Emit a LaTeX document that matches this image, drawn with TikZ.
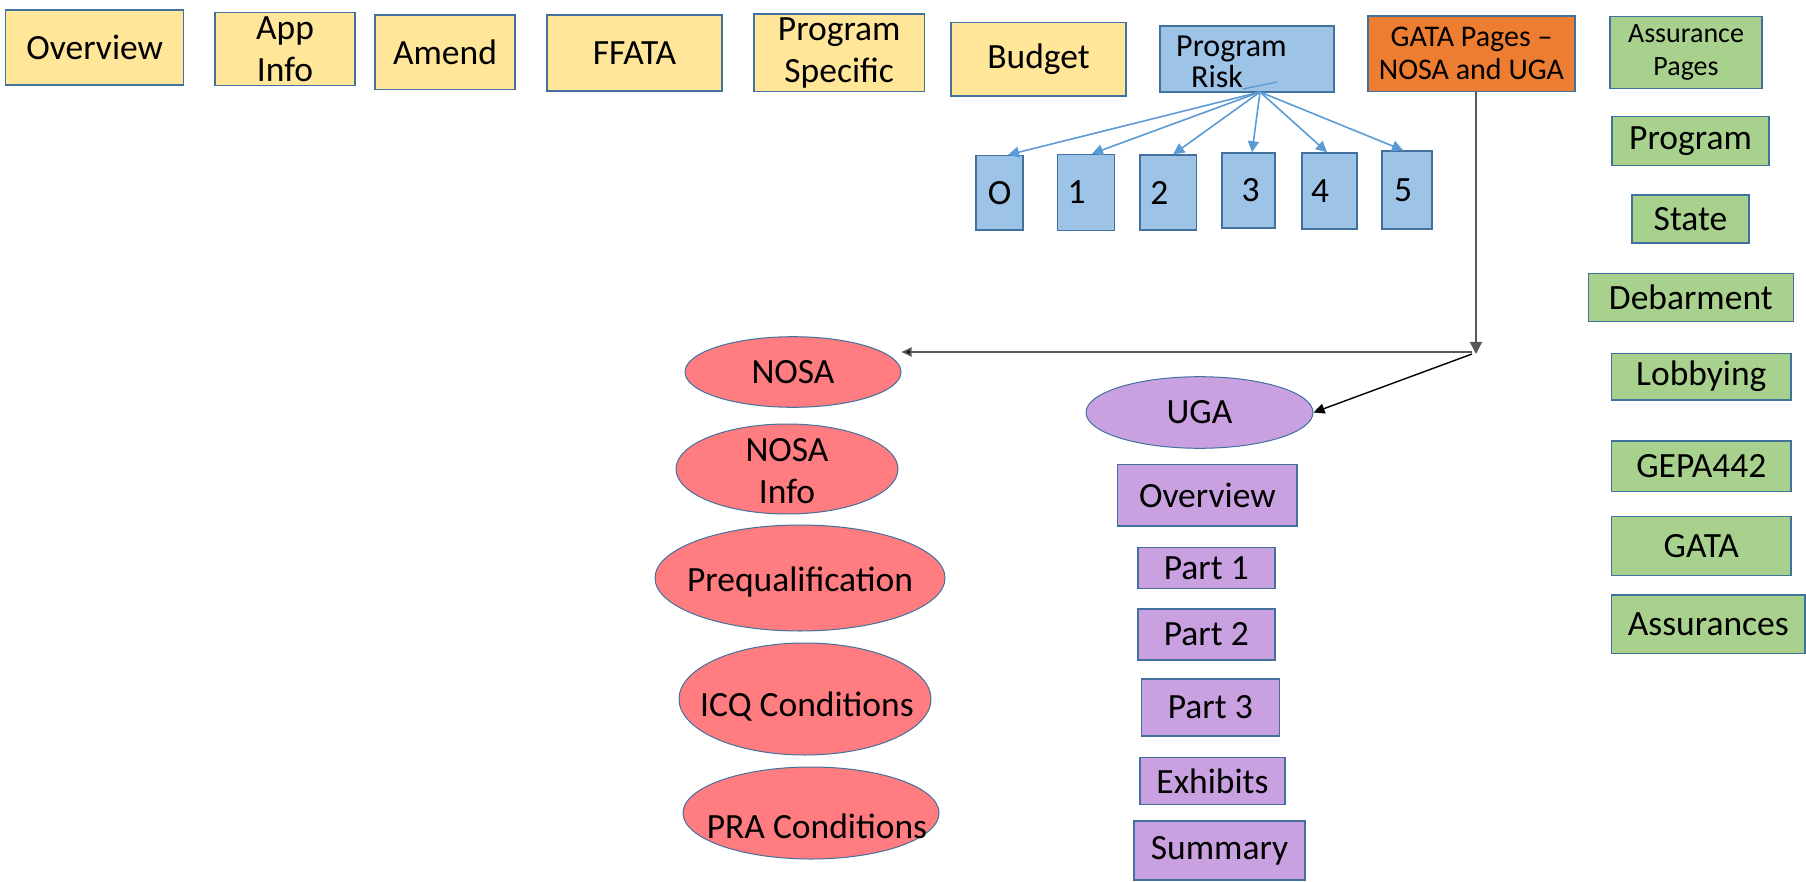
\documentclass[tikz,border=0pt]{standalone}
\usepackage{fontspec}
\setmainfont{Carlito}
\usetikzlibrary{shapes.geometric,arrows.meta}
\definecolor{bord}{HTML}{41719C}
\definecolor{yel}{HTML}{FFE699}
\definecolor{blu}{HTML}{9DC3E6}
\definecolor{org}{HTML}{ED7D31}
\definecolor{grn}{HTML}{A9D18E}
\definecolor{rd}{HTML}{FF7C80}
\definecolor{pur}{HTML}{C9A0E0}
\definecolor{arrblue}{HTML}{5B9BD5}
\newcommand\fbig{\fontsize{35.5}{42}\selectfont}
\newcommand\fmid{\fontsize{32}{38}\selectfont}
\newcommand\fsml{\fontsize{28}{33}\selectfont}
\newcommand\fgat{\fontsize{30}{33}\selectfont}
\begin{document}
\begin{tikzpicture}[x=1pt,y=-1pt,
  sz/.style 2 args={minimum width=#1pt, minimum height=#2pt},
  base/.style={draw=bord, line width=1.5pt, inner sep=0pt, font=\fbig, align=center, text=black},
  ybox/.style={base, fill=yel},
  bbox/.style={base, fill=blu},
  nbox/.style={bbox},
  obox/.style={base, fill=org, font=\fgat},
  gbox/.style={base, fill=grn},
  pbox/.style={base, fill=pur},
  ell/.style={ellipse, draw=bord, line width=1pt, inner sep=0pt},
  rell/.style={ell, fill=rd},
  pell/.style={ell, fill=pur},
  lbl/.style={font=\fbig, align=center, text=black, inner sep=0pt},
  barrow/.style={draw=arrblue, line width=1.6pt, -{Triangle[length=11pt,width=11pt]}},
  karrow/.style={draw=black, line width=1.4pt, -{Triangle[length=11pt,width=10pt]}},
  kline/.style={draw=black!65, line width=1.8pt}
]
\useasboundingbox (0,0) rectangle (1806,882);

% top row
\node[ybox, sz={178}{75}] (ov) at (94.7,47.5) {Overview};
\node[ybox, sz={140}{73}] (ai) at (285,49.2) {App\\Info};
\node[ybox, sz={140}{74.3}] (am) at (445,52.2) {Amend};
\node[ybox, sz={175}{76}] (ff) at (634.5,53) {FFATA};
\node[ybox, sz={170.5}{77.7}] (ps) at (839.2,52.8) {Program\\Specific};
\node[ybox, sz={175}{73.3}] (bu) at (1038.5,59.3) {Budget};
\node[bbox, sz={174}{66}] (pr) at (1247,59) {};
\node[lbl, font=\fmid, anchor=base west] (prt1) at (1176,57) {Program};
\node[lbl, font=\fmid, anchor=base west] (prt2) at (1191,88) {Risk};
\node[obox, sz={207}{75.7}] (gp) at (1471.5,53.8) {GATA Pages --\\NOSA and UGA};
\node[gbox, sz={152}{71.6}, font=\fsml] (ap) at (1686,52.5) {Assurance\\Pages};

% risk levels
\node[nbox, sz={47}{74.3}] (b0) at (999.5,192.8) {O};
\node[nbox, sz={57}{76}] (b1) at (1086,192.5) {1\hspace*{19pt}};
\node[nbox, sz={56.7}{75}] (b2) at (1168.3,192.5) {\raisebox{-4pt}{2}\hspace*{18pt}};
\node[nbox, sz={53}{75}] (b3) at (1248.5,190.5) {\hspace*{4pt}\raisebox{-3pt}{3}};
\node[nbox, sz={55}{76}] (b4) at (1329.5,191) {\raisebox{-2pt}{4}\hspace*{19pt}};
\node[nbox, sz={50}{78}] (b5) at (1407,190) {\raisebox{-3pt}{5}\hspace*{8pt}};

\coordinate (pro) at (1260,92);
\coordinate (stubA) at (1243,89);
\coordinate (stubB) at (1277,82);
\draw[draw=arrblue, line width=1.4pt] (stubA) -- (stubB);
\draw[barrow] (pro) -- ([xshift=8.5pt]b0.north);
\draw[barrow] (pro) -- ([xshift=6pt]b1.north);
\draw[barrow] (pro) -- ([xshift=5pt]b2.north);
\draw[barrow] (pro) -- ([xshift=3.5pt]b3.north);
\draw[barrow] (pro) -- ([xshift=-2.5pt]b4.north);
\draw[barrow] (pro) -- ([xshift=-4pt]b5.north);

% assurance column
\node[gbox, sz={157}{49}] (g1) at (1690.5,141.2) {Program};
\node[gbox, sz={117}{48.3}] (g2) at (1690.5,219) {State};
\node[gbox, sz={205}{48.4}] (g3) at (1690.8,297.5) {Debarment};
\node[gbox, sz={179.3}{46.7}] (g4) at (1701.3,376.7) {Lobbying};
\node[gbox, sz={179.3}{50.7}] (g5) at (1701.3,466.3) {GEPA442};
\node[gbox, sz={179.3}{59}] (g6) at (1701.3,546.2) {GATA};
\node[gbox, sz={193.3}{58.3}] (g7) at (1708.3,624.2) {Assurances};

% NOSA column
\node[rell, sz={216}{70.6}, label={[lbl]center:NOSA}] (nosa) at (793,372) {};
\node[rell, sz={222}{90}, label={[lbl, yshift=-2pt]center:{NOSA\\Info}}] (ninfo) at (787,469) {};
\node[rell, sz={290}{106}, label={[lbl, yshift=-4pt]center:Prequalification}] (preq) at (800,578) {};
\node[rell, sz={252}{112}, label={[lbl, xshift=2pt, yshift=-8pt]center:ICQ Conditions}] (icq) at (805,699) {};
\node[rell, sz={256}{92}, label={[lbl, xshift=6pt, yshift=-13pt]center:PRA Conditions}] (pra) at (811,813) {};

% UGA column
\node[pell, sz={227}{71.6}, label={[lbl]center:UGA}] (uga) at (1199.5,412.5) {};
\node[pbox, sz={179.3}{61.7}] (pov) at (1207.3,495.2) {Overview};
\node[pbox, sz={137}{41}] (p1) at (1206.3,567.8) {Part 1};
\node[pbox, sz={137}{51}] (p2) at (1206.3,634.5) {Part 2};
\node[pbox, sz={138}{57}] (p3) at (1210.3,707.5) {Part 3};
\node[pbox, sz={145}{47}] (ex) at (1212.5,780.8) {Exhibits};
\node[pbox, sz={171}{59}] (su) at (1219.5,850.5) {Summary};

% GATA connectors
\coordinate (j) at (1476,353);
\coordinate (jh) at (1472,352);
\coordinate (jd) at (1472,354);
\draw[kline, -{Triangle[length=12pt,width=12pt]}, shorten >=-1pt] ([xshift=4.5pt]gp.south) -- (j);
\draw[kline, -{Triangle[length=10pt,width=9pt,fill=black]}] (jh) -- (nosa.east |- jh);
\draw[karrow] (jd) -- (uga.east);
\end{tikzpicture}
\end{document}
